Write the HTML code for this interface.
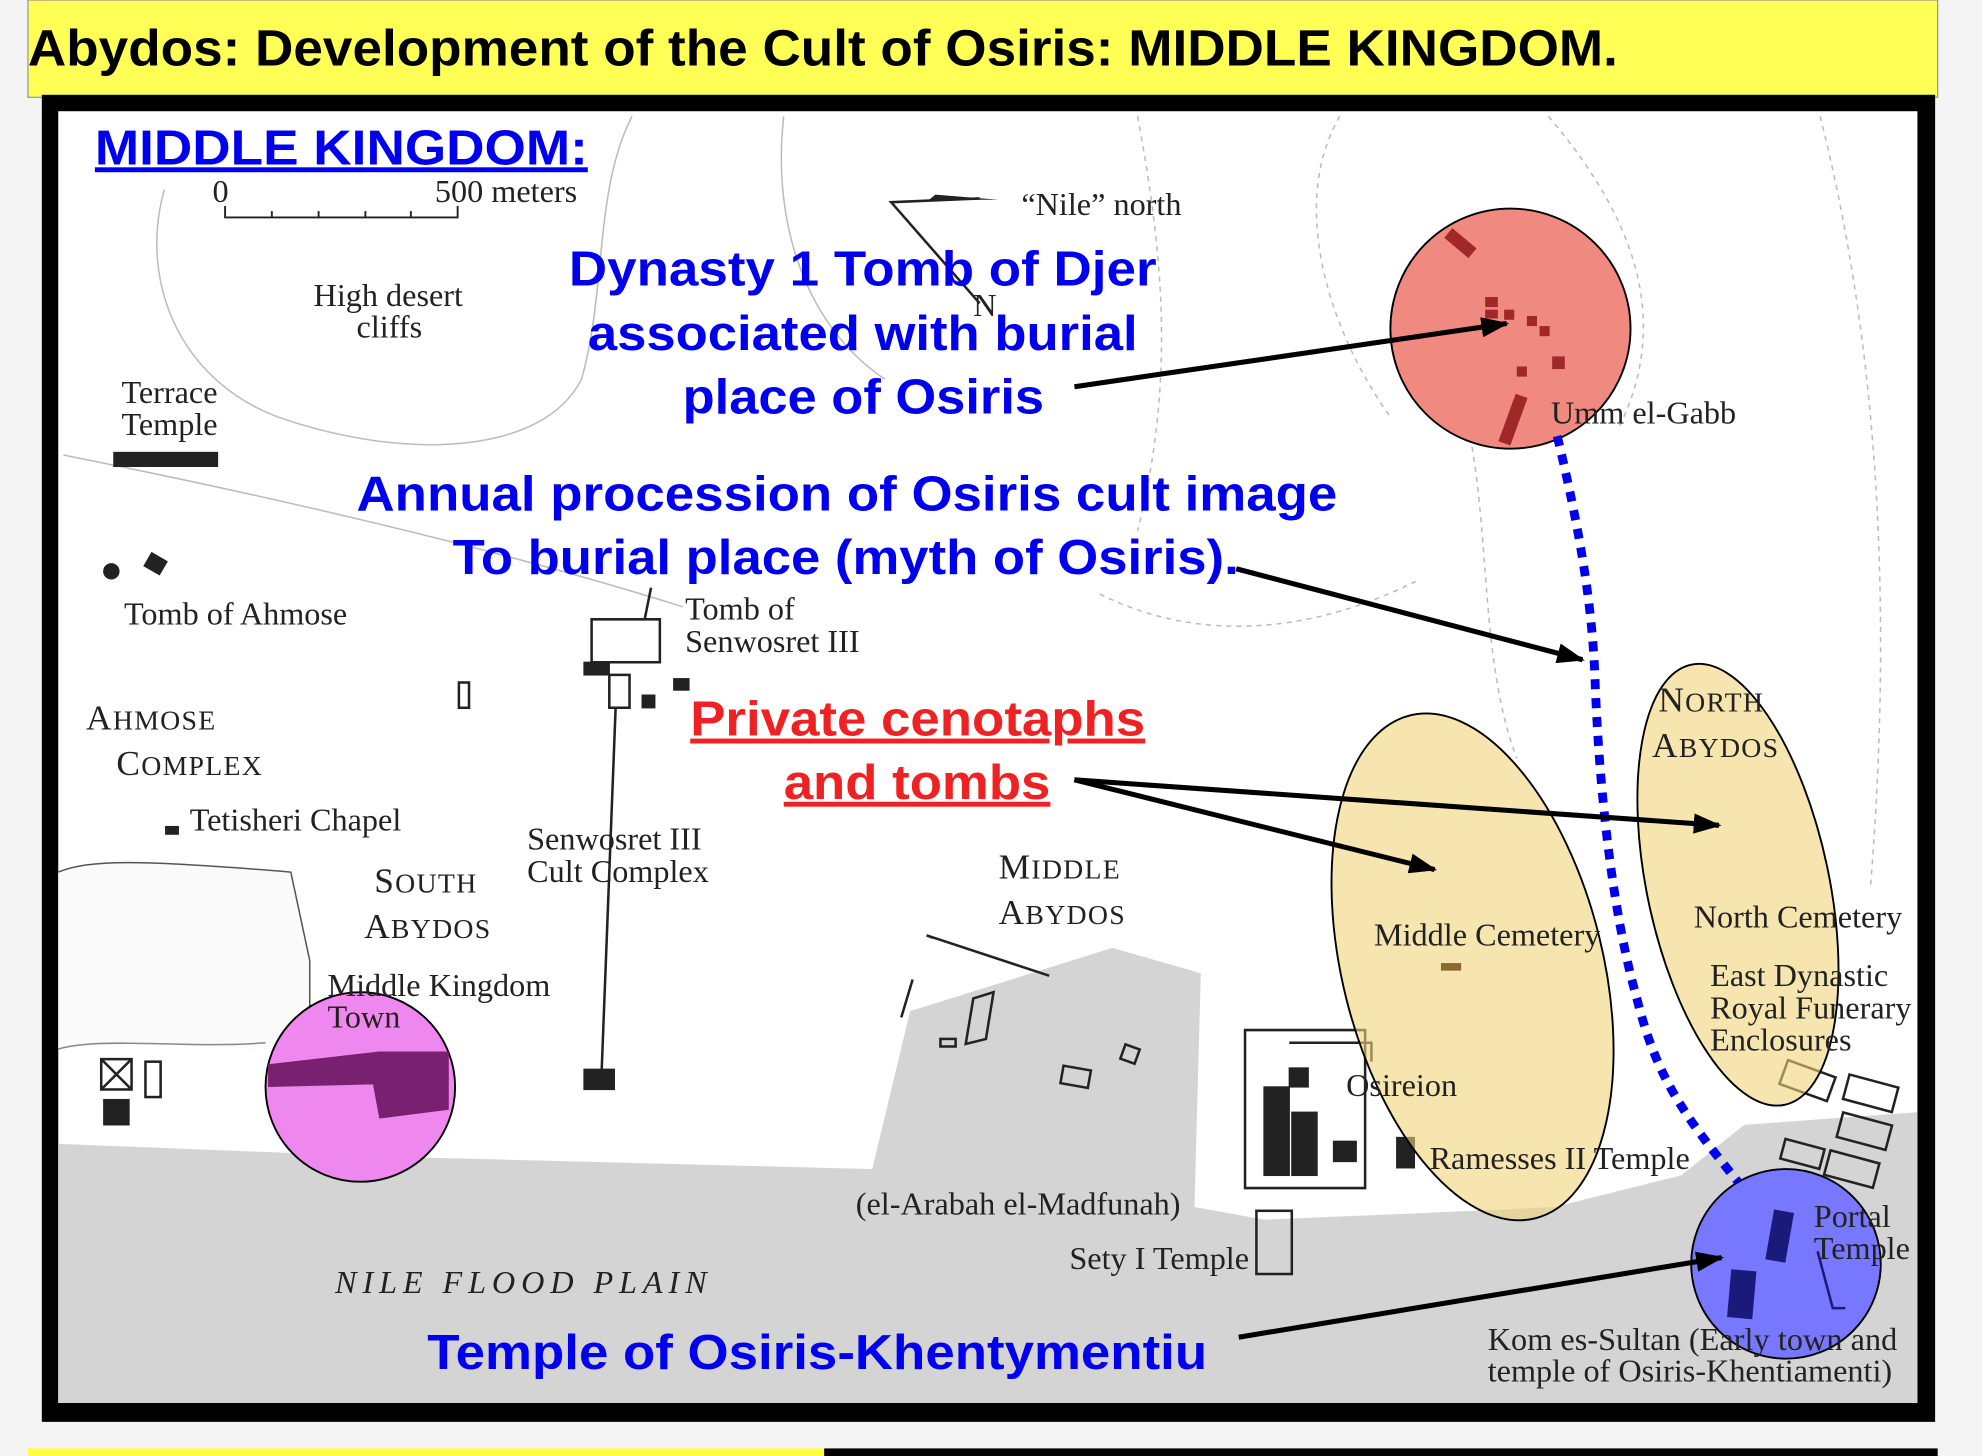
<!DOCTYPE html>
<html><head><meta charset="utf-8"><style>
html,body{margin:0;padding:0;background:#f4f4f4;}
svg{display:block}
.s{font-family:"Liberation Serif",serif;fill:#222;font-size:25.5px}
.sc{font-family:"Liberation Serif",serif;fill:#222;font-size:28px;letter-spacing:1px}
.b{font-family:"Liberation Sans",sans-serif;font-weight:bold;fill:#0000ee;font-size:39px}
</style></head><body>
<svg width="1982" height="1456" viewBox="0 0 1568 1152" xmlns="http://www.w3.org/2000/svg">
<defs>
<marker id="ah2" markerWidth="22" markerHeight="16" refX="20" refY="8" orient="auto" markerUnits="userSpaceOnUse"><path d="M0,0 L22,8 L0,16 Z" fill="#000"/></marker></defs>
<rect width="1568" height="1152" fill="#f4f4f4"/>
<rect x="22" y="0" width="1511" height="77" fill="#ffff55" stroke="#999" stroke-width="1"/>
<text x="22" y="52" font-family="Liberation Sans,sans-serif" font-weight="bold" font-size="40" fill="#000" textLength="1258" lengthAdjust="spacingAndGlyphs">Abydos: Development of the Cult of Osiris: MIDDLE KINGDOM.</text>
<rect x="33" y="75" width="1498" height="1050" fill="#000"/>
<rect x="46" y="88" width="1471" height="1022" fill="#fff"/>
<path d="M46,905 L300,915 L690,925 L720,800 L880,750 L950,770 L945,955 L1000,965 L1120,960 L1230,955 L1330,930 L1380,890 L1517,880 L1517,1110 L46,1110 Z" fill="#d4d4d4"/>
<path d="M46,690 L100,680 L230,690 L245,760 L245,825 L200,830 L110,825 L46,830 Z" fill="#fafafa"/>
<g fill="none" stroke="#bbb" stroke-width="1.2">
<path d="M130,150 C110,220 140,300 220,330 C320,365 430,360 460,300 C480,230 470,150 500,92"/>
<path d="M50,360 C200,390 380,430 540,480"/>
<path d="M620,92 C610,180 640,260 700,300"/>
<path d="M1060,92 C1020,160 1050,260 1100,330" stroke-dasharray="4 4"/>
<path d="M900,92 C920,200 930,300 900,420" stroke-dasharray="4 4"/>
<path d="M1225,92 C1300,180 1320,260 1280,340" stroke-dasharray="4 4"/>
<path d="M1440,92 C1480,250 1500,450 1480,700" stroke-dasharray="4 4"/>
<path d="M870,470 C950,510 1040,500 1120,460" stroke-dasharray="4 4"/>
<path d="M1160,330 C1180,420 1170,520 1200,600" stroke-dasharray="4 4"/>
<path d="M46,830 C80,820 150,830 210,825" stroke="#888"/>
<path d="M46,690 C70,680 110,680 230,690 L245,760 L245,825" stroke="#555"/>
</g>
<g fill="#222" stroke="#222">
<rect x="90" y="358" width="82" height="11"/>
<circle cx="88" cy="452" r="6"/><rect x="116" y="440" width="14" height="12" transform="rotate(30 123 446)"/>
<rect x="131" y="654" width="10" height="6"/>
<rect x="462" y="524" width="20" height="10"/><rect x="508" y="550" width="10" height="10"/><rect x="533" y="537" width="12" height="9"/>
<rect x="462" y="846" width="24" height="16"/>
<rect x="1000" y="860" width="20" height="70"/><rect x="1020" y="845" width="15" height="15"/><rect x="1055" y="903" width="18" height="16"/><rect x="1105" y="900" width="14" height="24"/><rect x="1022" y="880" width="20" height="50"/>
<rect x="82" y="870" width="20" height="20"/>
</g>
<g fill="none" stroke="#222" stroke-width="2">
<path d="M468,490 L522,490 L522,524 L468,524 Z M482,534 L498,534 L498,560 L482,560 Z"/>
<path d="M487,560 L476,846"/><path d="M510,490 L515,465"/>
<rect x="363" y="540" width="8" height="20"/>
<path d="M733,740 L738,742 M733,740 L830,772 M722,775 L713,805"/>
<path d="M770,790 L786,785 L780,822 L764,826 Z"/><rect x="744" y="822" width="12" height="6"/><rect x="840" y="845" width="22" height="14" transform="rotate(10 851 852)"/><rect x="888" y="828" width="12" height="12" transform="rotate(20 894 834)"/>
<path d="M985,815 L1080,815 L1080,940 L985,940 Z"/><path d="M1020,825 L1085,825 L1085,840"/>
<rect x="994" y="958" width="28" height="50"/>
<rect x="80" y="838" width="24" height="24"/><path d="M80,838 L104,862 M104,838 L80,862"/><rect x="115" y="840" width="12" height="28"/>
<rect x="1410" y="845" width="40" height="20" transform="rotate(20 1430 855)"/><rect x="1460" y="855" width="40" height="20" transform="rotate(15 1480 865)"/><rect x="1455" y="885" width="40" height="20" transform="rotate(15 1475 895)"/><rect x="1410" y="905" width="32" height="16" transform="rotate(15 1426 913)"/><rect x="1445" y="915" width="40" height="20" transform="rotate(15 1465 925)"/>
</g>
<path d="M705,160 L775,157 L705,160 L775,240" fill="none" stroke="#222" stroke-width="2"/>
<path d="M735,158 L790,158 L740,154 Z" fill="#222"/>
<path d="M178,163 L178,172 L362,172 L362,163 M215,172 L215,167 M252,172 L252,167 M289,172 L289,167 M325,172 L325,167" fill="none" stroke="#222" stroke-width="1.5"/>
<circle cx="1195" cy="260" r="95" fill="#f08a80" stroke="#000" stroke-width="1.5"/>
<g fill="#a02828"><rect x="1150" y="180" width="10" height="25" transform="rotate(-50 1155 192)"/><rect x="1175" y="235" width="10" height="8"/><rect x="1190" y="245" width="8" height="8"/><rect x="1208" y="250" width="8" height="8"/><rect x="1218" y="258" width="8" height="8"/><rect x="1200" y="290" width="8" height="8"/><rect x="1228" y="282" width="10" height="10"/><rect x="1192" y="312" width="10" height="40" transform="rotate(20 1197 332)"/><rect x="1175" y="245" width="10" height="7"/></g>
<circle cx="285" cy="860" r="75" fill="#ee88ee" stroke="#000" stroke-width="1.5"/>
<path d="M212,842 L300,832 L355,832 L355,878 L300,885 L295,858 L212,860 Z" fill="#7a2070"/>
<circle cx="1413" cy="1000" r="75" fill="#7777ff" stroke="#000" stroke-width="1.5"/>
<g fill="#1a1a7a"><rect x="1400" y="958" width="16" height="40" transform="rotate(10 1408 978)"/><rect x="1368" y="1005" width="20" height="38" transform="rotate(5 1378 1024)"/></g>
<path d="M1438,990 L1450,1035 L1460,1035" fill="none" stroke="#1a1a7a" stroke-width="2"/>
<ellipse cx="1165" cy="765" rx="103" ry="205" transform="rotate(-14 1165 765)" fill="#f2d37a" fill-opacity="0.6" stroke="#000" stroke-width="1.5"/>
<ellipse cx="1375" cy="700" rx="72" ry="178" transform="rotate(-12 1375 700)" fill="#f2d37a" fill-opacity="0.6" stroke="#000" stroke-width="1.5"/>
<rect x="1140" y="762" width="16" height="6" fill="#8a6a30"/>
<path d="M1232,345 C1250,420 1260,480 1262,540 C1265,620 1275,720 1295,790 C1310,850 1330,880 1375,935" fill="none" stroke="#0000ee" stroke-width="7" stroke-dasharray="8 7"/>
<g stroke="#000" stroke-width="4" fill="none">
<line x1="850" y1="306" x2="1192" y2="256" marker-end="url(#ah2)"/>
<line x1="978" y1="450" x2="1252" y2="522" marker-end="url(#ah2)"/>
<line x1="850" y1="617" x2="1135" y2="688" marker-end="url(#ah2)"/>
<line x1="850" y1="617" x2="1360" y2="653" marker-end="url(#ah2)"/>
<line x1="980" y1="1058" x2="1362" y2="995" marker-end="url(#ah2)"/>
</g>
<text x="168" y="160" class="s">0</text><text x="344" y="160" class="s">500 meters</text>
<text x="808" y="170" class="s">“Nile” north</text>
<text x="770" y="250" class="s">N</text>
<text x="248" y="242" class="s">High desert</text><text x="282" y="267" class="s">cliffs</text>
<text x="96" y="319" class="s">Terrace</text><text x="96" y="344" class="s">Temple</text>
<text x="98" y="494" class="s">Tomb of Ahmose</text>
<text x="542" y="490" class="s">Tomb of</text><text x="542" y="516" class="s">Senwosret III</text>
<text x="68" y="577" class="sc">A<tspan font-size="22">HMOSE</tspan></text>
<text x="92" y="613" class="sc">C<tspan font-size="22">OMPLEX</tspan></text>
<text x="150" y="657" class="s">Tetisheri Chapel</text>
<text x="417" y="672" class="s">Senwosret III</text><text x="417" y="698" class="s">Cult Complex</text>
<text x="296" y="706" class="sc">S<tspan font-size="22">OUTH</tspan></text>
<text x="288" y="742" class="sc">A<tspan font-size="22">BYDOS</tspan></text>
<text x="790" y="695" class="sc">M<tspan font-size="22">IDDLE</tspan></text>
<text x="790" y="731" class="sc">A<tspan font-size="22">BYDOS</tspan></text>
<text x="259" y="788" class="s">Middle Kingdom</text><text x="259" y="813" class="s">Town</text>
<text x="1227" y="335" class="s">Umm el-Gabb</text>
<text x="1312" y="563" class="sc">N<tspan font-size="22">ORTH</tspan></text>
<text x="1307" y="599" class="sc">A<tspan font-size="22">BYDOS</tspan></text>
<text x="1087" y="748" class="s">Middle Cemetery</text>
<text x="1340" y="734" class="s">North Cemetery</text>
<text x="1353" y="780" class="s">East Dynastic</text><text x="1353" y="806" class="s">Royal Funerary</text><text x="1353" y="831" class="s">Enclosures</text>
<text x="1065" y="867" class="s">Osireion</text>
<text x="1131" y="925" class="s">Ramesses II Temple</text>
<text x="1435" y="971" class="s">Portal</text><text x="1435" y="996" class="s">Temple</text>
<text x="677" y="961" class="s">(el-Arabah el-Madfunah)</text>
<text x="846" y="1004" class="s">Sety I Temple</text>
<text x="265" y="1023" class="s" font-style="italic" letter-spacing="4" textLength="298">NILE  FLOOD  PLAIN</text>
<text x="1177" y="1068" class="s" textLength="324">Kom es-Sultan (Early town and</text>
<text x="1177" y="1093" class="s" textLength="320">temple of Osiris-Khentiamenti)</text>
<text x="75" y="130" class="b" text-decoration="underline" textLength="390" lengthAdjust="spacingAndGlyphs">MIDDLE KINGDOM:</text>
<text x="450" y="226" class="b" textLength="465" lengthAdjust="spacingAndGlyphs">Dynasty 1 Tomb of Djer</text>
<text x="465" y="277" class="b" textLength="435" lengthAdjust="spacingAndGlyphs">associated with burial</text>
<text x="540" y="327" class="b" textLength="286" lengthAdjust="spacingAndGlyphs">place of Osiris</text>
<text x="282" y="404" class="b" textLength="776" lengthAdjust="spacingAndGlyphs">Annual procession of Osiris cult image</text>
<text x="358" y="454" class="b" textLength="622" lengthAdjust="spacingAndGlyphs">To burial place (myth of Osiris).</text>
<text x="546" y="582" class="b" style="fill:#ee2222" text-decoration="underline" textLength="360" lengthAdjust="spacingAndGlyphs">Private cenotaphs</text>
<text x="620" y="632" class="b" style="fill:#ee2222" text-decoration="underline" textLength="211" lengthAdjust="spacingAndGlyphs">and tombs</text>
<text x="338" y="1083" class="b" textLength="617" lengthAdjust="spacingAndGlyphs">Temple of Osiris-Khentymentiu</text>
<rect x="22" y="1146" width="630" height="6" fill="#ffff44"/>
<rect x="652" y="1146" width="881" height="6" fill="#000"/>
</svg>
</body></html>
